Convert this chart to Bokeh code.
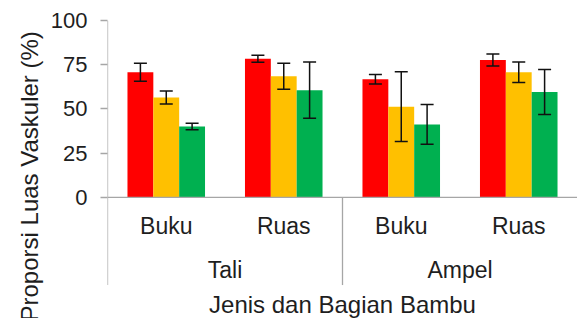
from bokeh.plotting import figure
from bokeh.models import (ColumnDataSource, FactorRange, Range1d, FixedTicker, Span,
                          Whisker, TeeHead, Title)
from bokeh.transform import dodge
from bokeh.core.properties import value
from bokeh.embed import file_html
from bokeh.resources import INLINE

# ---- data ----
jenis = ["Tali", "Ampel"]
bagian = ["Buku", "Ruas"]
y_ticks = [0, 25, 50, 75, 100]

nilai_merah = [70.8, 78.4, 66.8, 77.7]
galat_merah = [5.1, 2.0, 2.7, 3.4]
nilai_kuning = [56.5, 68.5, 51.3, 70.7]
galat_kuning = [3.7, 7.3, 19.7, 5.8]
nilai_hijau = [40.1, 60.6, 41.3, 59.6]
galat_hijau = [1.9, 15.9, 11.3, 12.7]

judul_y = "Proporsi Luas Vaskuler (%)"
judul_x = "Jenis dan Bagian Bambu"

FONT = "Liberation Sans"
TXT = "#1e1e1e"
AX = "#a6a6a6"

factors = [(j, b) for j in jenis for b in bagian]

x_range = FactorRange(factors=factors, factor_padding=0, group_padding=0,
                      subgroup_padding=0, range_padding=0)
y_start = -68.4      # frame reaches the bottom of the canvas
y_line_end = -49.5   # where the category separators stop
p = figure(width=577, height=318, x_range=x_range, y_range=Range1d(y_start, 100),
           output_backend="svg", toolbar_location=None,
           min_border_left=107, min_border_right=0, min_border_top=20, min_border_bottom=0)
p.outline_line_color = None
p.xgrid.visible = False
p.ygrid.visible = False
p.xaxis.visible = False

ya = p.yaxis[0]
ya.ticker = FixedTicker(ticks=y_ticks)
ya.axis_line_color = None
ya.major_tick_line_color = AX
ya.major_tick_line_width = 1.3
ya.major_tick_out = 7
ya.major_tick_in = 0
ya.minor_tick_line_color = None
ya.major_label_standoff = 13
ya.major_label_text_font = FONT
ya.major_label_text_font_size = "22px"
ya.major_label_text_color = TXT

series = [
    (nilai_merah, galat_merah, "#ff0000", -0.22),
    (nilai_kuning, galat_kuning, "#ffc000", 0.0),
    (nilai_hijau, galat_hijau, "#00b050", 0.22),
]
for vals, errs, col, off in series:
    src = ColumnDataSource(dict(
        x=factors, top=vals,
        upper=[v + e for v, e in zip(vals, errs)],
        lower=[v - e for v, e in zip(vals, errs)],
    ))
    p.vbar(x=dodge("x", off, range=p.x_range), top="top", bottom=0, width=0.22,
           source=src, fill_color=col, line_color=None)
    w = Whisker(base=dodge("x", off, range=p.x_range), upper="upper", lower="lower",
                source=src, dimension="height", line_color="#111111", line_width=1.5,
                level="overlay",
                upper_head=TeeHead(size=13, line_color="#111111", line_width=1.5),
                lower_head=TeeHead(size=13, line_color="#111111", line_width=1.5))
    p.add_layout(w)

# baseline at y = 0
p.add_layout(Span(location=0, dimension="width", line_color=AX, line_width=1.3))

# value-axis line and separator between top-level groups
sep = ColumnDataSource(dict(x=[(jenis[0], bagian[0]), (jenis[1], bagian[0])], y0=[100, 0]))
p.segment(x0=dodge("x", -0.5, range=p.x_range), x1=dodge("x", -0.5, range=p.x_range),
          y0="y0", y1=y_line_end, source=sep, line_color=AX, line_width=1.3)

# category labels
sub_src = ColumnDataSource(dict(x=factors, t=[b for _, b in factors]))
p.text(x="x", y=-16.0, text="t", source=sub_src, text_align="center",
       text_baseline="middle", text_font=value(FONT), text_font_size="23px",
       text_color=TXT)
grp_src = ColumnDataSource(dict(x=jenis, t=jenis))
p.text(x="x", y=-40.8, text="t", source=grp_src, text_align="center",
       text_baseline="middle", text_font=value(FONT), text_font_size="23px",
       text_color=TXT)

# x-axis title (inside the frame, centred on the whole category axis)
xt_src = ColumnDataSource(dict(x=[jenis[1]], t=[judul_x]))
p.text(x=dodge("x", -1.0, range=p.x_range), y=-60.3, text="t", source=xt_src,
       text_align="center", text_baseline="middle", text_font=value(FONT),
       text_font_size="24px", text_color=TXT)

# y-axis title
p.add_layout(Title(text=judul_y, align="left", vertical_align="bottom", offset=-3,
                   standoff=10, text_font=FONT, text_font_size="24px",
                   text_font_style="normal", text_color=TXT), "left")

open("out.html", "w").write(file_html(p, INLINE))
